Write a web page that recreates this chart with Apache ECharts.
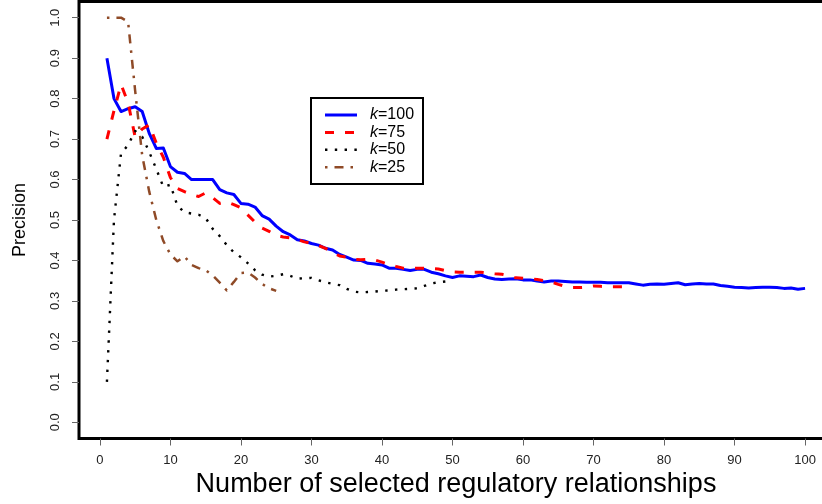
<!DOCTYPE html>
<html>
<head>
<meta charset="utf-8">
<script src="https://cdn.jsdelivr.net/npm/echarts@6/dist/echarts.min.js"></script>
<style>
  html, body { margin: 0; padding: 0; background: #fff; }
  #chart { width: 822px; height: 504px; }
</style>
</head>
<body>
<div id="chart"></div>
<script>
// Precision after selecting the top-N regulatory relationships, one curve per k.
const precisionK100 = [
  0.900, 0.800, 0.768, 0.775, 0.780, 0.768, 0.714, 0.677, 0.678, 0.632,
  0.618, 0.615, 0.600, 0.600, 0.600, 0.600, 0.575, 0.567, 0.563, 0.541,
  0.539, 0.532, 0.511, 0.502, 0.485, 0.471, 0.463, 0.451, 0.448, 0.442,
  0.438, 0.430, 0.426, 0.415, 0.408, 0.401, 0.400, 0.393, 0.391, 0.389,
  0.381, 0.381, 0.378, 0.375, 0.378, 0.378, 0.371, 0.367, 0.362, 0.358,
  0.362, 0.361, 0.360, 0.364, 0.358, 0.354, 0.353, 0.354, 0.355, 0.352,
  0.352, 0.349, 0.347, 0.349, 0.349, 0.348, 0.347, 0.347, 0.346, 0.346,
  0.346, 0.345, 0.345, 0.345, 0.345, 0.342, 0.339, 0.341, 0.342, 0.341,
  0.343, 0.345, 0.340, 0.342, 0.343, 0.342, 0.342, 0.338, 0.336, 0.334,
  0.333, 0.332, 0.333, 0.334, 0.334, 0.333, 0.331, 0.332, 0.329, 0.331
];
const precisionK75 = [
  0.700, 0.770, 0.835, 0.790, 0.705, 0.725, 0.735, 0.690, 0.655, 0.605,
  0.578, 0.570, 0.563, 0.558, 0.567, 0.555, 0.541, 0.545, 0.538, 0.530,
  0.512, 0.495, 0.480, 0.472, 0.462, 0.458, 0.456, 0.452, 0.446, 0.442,
  0.437, 0.430, 0.420, 0.411, 0.408, 0.403, 0.402, 0.403, 0.401, 0.396,
  0.390, 0.385, 0.381, 0.380, 0.381, 0.381, 0.380, 0.379, 0.375, 0.372,
  0.371, 0.371, 0.371, 0.371, 0.369, 0.367, 0.366, 0.362, 0.357, 0.356,
  0.355, 0.353, 0.350, 0.347, 0.341, 0.336, 0.333, 0.333, 0.334, 0.337,
  0.336, 0.335, 0.335, 0.335, 0.335
];
const precisionK50 = [
  0.100, 0.500, 0.665, 0.685, 0.720, 0.706, 0.668, 0.626, 0.582, 0.587,
  0.535, 0.519, 0.516, 0.513, 0.505, 0.478, 0.460, 0.438, 0.420, 0.408,
  0.393, 0.376, 0.365, 0.360, 0.362, 0.366, 0.362, 0.355, 0.356, 0.357,
  0.351, 0.346, 0.342, 0.339, 0.330, 0.323, 0.321, 0.322, 0.323, 0.325,
  0.326, 0.328, 0.329, 0.330, 0.331, 0.337, 0.343, 0.346, 0.348, 0.350
];
const precisionK25 = [
  1.000, 1.000, 1.000, 0.990, 0.820, 0.660, 0.570, 0.500, 0.448, 0.415,
  0.398, 0.410, 0.389, 0.381, 0.376, 0.363, 0.345, 0.326, 0.347, 0.369,
  0.370, 0.358, 0.342, 0.331, 0.325
];

const xTickValues = [0, 10, 20, 30, 40, 50, 60, 70, 80, 90, 100];
const yTickValues = [0.0, 0.1, 0.2, 0.3, 0.4, 0.5, 0.6, 0.7, 0.8, 0.9, 1.0];
const kLabels = ['100', '75', '50', '25'];

const FONT = '"Liberation Sans", Arial, Helvetica, sans-serif';

const curves = [
  { k: kLabels[0], data: precisionK100, color: '#0000ff', width: 3,   dash: null },
  { k: kLabels[1], data: precisionK75,  color: '#ff0000', width: 3,   dash: [9, 11] },
  { k: kLabels[2], data: precisionK50,  color: '#000000', width: 2.4, dash: [2.4, 7.4] },
  { k: kLabels[3], data: precisionK25,  color: '#8f4a27', width: 2.5, dash: [2.5, 7, 9, 7] }
];

// x runs from 1..n for each curve
const toPoints = arr => arr.map((v, i) => [i + 1, v]);

const series = curves.map(c => ({
  name: 'k=' + c.k,
  type: 'line',
  data: toPoints(c.data),
  showSymbol: false,
  symbol: 'none',
  silent: true,
  animation: false,
  lineStyle: {
    color: c.color,
    width: c.width,
    type: c.dash ? c.dash : 'solid',
    cap: 'butt',
    join: 'round'
  }
}));

// Boxed key in the upper middle of the plot
const keyLeft = 311, keyTop = 98, keyW = 112, keyH = 86;
const rowY0 = 115, rowStep = 17.4;
const keyGraphics = [{
  type: 'rect',
  shape: { x: keyLeft, y: keyTop, width: keyW, height: keyH },
  style: { fill: '#fff', stroke: '#000', lineWidth: 2 },
  z: 10
}];
curves.forEach((c, i) => {
  const y = rowY0 + i * rowStep;
  keyGraphics.push({
    type: 'line',
    shape: { x1: 325, y1: y, x2: 357, y2: y },
    style: { stroke: c.color, lineWidth: c.width, lineDash: c.dash || null, lineCap: 'butt' },
    z: 11
  });
  keyGraphics.push({
    type: 'text',
    x: 370, y: y,
    style: {
      text: '{i|k}=' + c.k,
      fill: '#000',
      font: '16px ' + FONT,
      verticalAlign: 'middle',
      align: 'left',
      rich: { i: { fontStyle: 'italic', fontSize: 16, fontFamily: FONT } }
    },
    z: 11
  });
});

const chart = echarts.init(document.getElementById('chart'), null, { renderer: 'canvas' });
chart.setOption({
  animation: false,
  backgroundColor: '#ffffff',
  grid: {
    left: 79, top: 1.5, width: 754, height: 437,
    show: true, borderColor: '#000', borderWidth: 3, backgroundColor: 'transparent',
    containLabel: false,
    outerBoundsMode: 'none'
  },
  xAxis: {
    type: 'value',
    min: -2.96, max: 103.96,
    name: 'Number of selected regulatory relationships',
    nameLocation: 'middle',
    nameGap: 32,
    nameTextStyle: { fontFamily: FONT, fontSize: 27, color: '#000' },
    splitLine: { show: false },
    axisLine: { show: false, onZero: false },
    axisTick: { show: true, inside: false, length: 7, customValues: xTickValues, lineStyle: { color: '#666', width: 1 } },
    axisLabel: {
      customValues: xTickValues,
      margin: 15, fontFamily: FONT, fontSize: 13, color: '#222',
      showMinLabel: true, showMaxLabel: true
    }
  },
  yAxis: {
    type: 'value',
    min: -0.04, max: 1.04,
    name: 'Precision',
    nameLocation: 'middle',
    nameGap: 50,
    nameRotate: 90,
    nameTextStyle: { fontFamily: FONT, fontSize: 18, color: '#000' },
    splitLine: { show: false },
    axisLine: { show: false, onZero: false },
    axisTick: { show: true, inside: false, length: 7, customValues: yTickValues, lineStyle: { color: '#666', width: 1 } },
    axisLabel: {
      customValues: yTickValues,
      rotate: 90,
      margin: 17, fontFamily: FONT, fontSize: 13, color: '#222',
      formatter: v => v.toFixed(1)
    }
  },
  series: series,
  graphic: keyGraphics
});
</script>
</body>
</html>
